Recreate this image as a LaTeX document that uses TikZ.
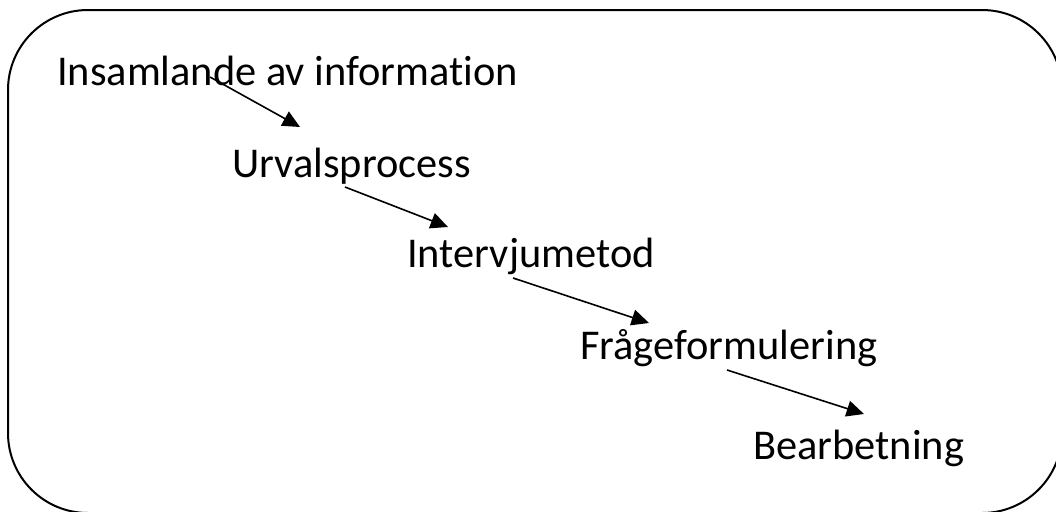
\documentclass[tikz,border=0pt]{standalone}
\usepackage{fontspec}
\setmainfont[Ligatures=NoCommon]{Carlito}
\usetikzlibrary{arrows.meta, positioning}

\begin{document}
\begin{tikzpicture}[x=0.75pt, y=-0.75pt,
      stage/.style={inner sep=0pt, anchor=base west, font=\fontsize{31.8}{38}\selectfont},
      arr/.style={-{Triangle[length=13pt, width=12pt]}, line width=1.2pt},
      frame/.style={draw, line width=1.5pt, rounded corners=60pt},
    ]
    \useasboundingbox (0,0) rectangle (1056,511);
    \draw[frame] (8,10) rectangle (1062,513);
    \node[stage] (ins) at (57,85) {Insamlande av information};
    \node[stage] (urv) at (232,177) {Urvalsprocess};
    \node[stage] (int) at (407,267) {Intervjumetod};
    \node[stage] (fra) at (580,359) {Frågeformulering};
    \node[stage] (bea) at (753,459) {Bearbetning};
    \draw[arr] ([shift={(153,-8)}]ins.base west) -- ([shift={(68,-50)}]urv.base west);
    \draw[arr] ([shift={(113,10)}]urv.base west) -- ([shift={(41,-40)}]int.base west);
    \draw[arr] ([shift={(106,11)}]int.base west) -- ([shift={(69,-36)}]fra.base west);
    \draw[arr] ([shift={(147,11)}]fra.base west) -- ([shift={(111,-45)}]bea.base west);
  \end{tikzpicture}
\end{document}
